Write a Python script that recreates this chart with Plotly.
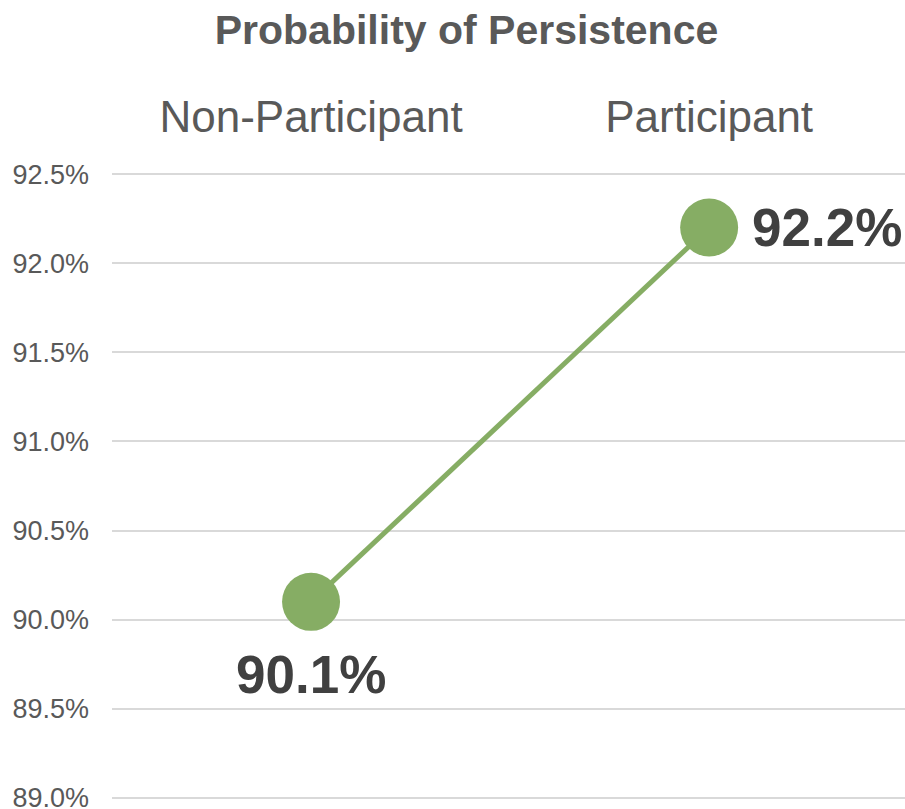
import plotly.graph_objects as go

categories = ["Non-Participant", "Participant"]
persistence = [0.901, 0.922]
y_min, y_max, y_step = 0.89, 0.925, 0.005

GREEN = "#86AD64"
FONT = "Liberation Sans, Arial, sans-serif"

W, H = 905, 809
pad = 0.00006  # tiny range padding so edge gridlines are drawn

fig = go.Figure()
fig.add_trace(go.Scatter(
    x=categories,
    y=persistence,
    mode="lines+markers",
    line=dict(color=GREEN, width=5),
    marker=dict(color=GREEN, size=58),
    cliponaxis=False,
    hoverinfo="skip",
))

labels = [f"<b>{v*100:.1f}%</b>" for v in persistence]
label_style = [
    dict(xanchor="center", yanchor="middle", xshift=0, yshift=-73),
    dict(xanchor="left", yanchor="middle", xshift=41, yshift=0),
]
for cat, val, txt, st in zip(categories, persistence, labels, label_style):
    fig.add_annotation(
        x=cat, y=val, text=txt, showarrow=False,
        font=dict(family=FONT, size=53, color="#404040"),
        **st,
    )

fig.update_layout(
    width=W, height=H,
    margin=dict(l=112, r=0, t=173, b=10, autoexpand=False),
    paper_bgcolor="white", plot_bgcolor="white",
    showlegend=False,
    font=dict(family=FONT, color="#595959"),
    title=dict(
        text="<b>Probability of Persistence</b>",
        font=dict(family=FONT, size=41, color="#595959"),
        xref="paper", yref="container",
        x=(466.5 - 112) / 793, xanchor="center",
        y=1 - 30 / H, yanchor="middle",
        automargin=False,
    ),
)
fig.update_xaxes(
    type="category",
    side="top",
    range=[-0.5, 1.492],
    automargin=False,
    showgrid=False, zeroline=False, showline=False,
    ticks="", ticklabelstandoff=31,
    tickfont=dict(family=FONT, size=44, color="#595959"),
)
fig.update_yaxes(
    range=[y_min - pad, y_max + pad],
    dtick=y_step, tick0=y_min,
    tickformat=".1%",
    automargin=False,
    showgrid=True, gridcolor="#D9D9D9", gridwidth=2,
    zeroline=False, showline=False,
    ticks="", ticklabelstandoff=22,
    ticklabeloverflow="allow",
    tickfont=dict(family=FONT, size=27, color="#595959"),
)

fig.write_html(
    "out.html",
    config={"displayModeBar": False},
    post_script="document.body.style.margin='0';document.body.style.overflow='hidden';",
)
